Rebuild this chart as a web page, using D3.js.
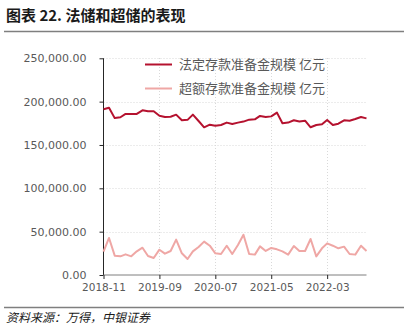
<!DOCTYPE html>
<html>
<head>
<meta charset="utf-8">
<script src="https://cdn.jsdelivr.net/npm/d3@7"></script>
<style>
  html, body { margin: 0; padding: 0; background: #fff; }
  svg { display: block; }
</style>
</head>
<body>
<svg id="chart" width="414" height="331"></svg>
<script>
// Monthly series, 2018-11 to 2022-10 (亿元)
const months = d3.timeMonths(new Date(2018, 10, 1), new Date(2022, 10, 1));
const statutoryReserves = [
  191200, 193000, 181000, 182000, 185800, 185800, 185800, 190000, 188800, 189000,
  183800, 182300, 182600, 185000, 178500, 179000, 185000, 177700, 170400, 173400,
  172300, 173000, 175800, 174200, 175800, 177000, 179200, 179600, 183500, 182300,
  183000, 187300, 175000, 175800, 178500, 177000, 178000, 170400, 173000, 173800,
  178800, 173000, 174600, 178500, 178000, 180000, 182300, 180700
];
const excessReserves = [
  26900, 42700, 22300, 21500, 23800, 21500, 27300, 31500, 21900, 19600,
  29200, 24600, 27700, 40800, 25000, 18500, 27300, 32300, 38500, 33800,
  25000, 24200, 33800, 24200, 34600, 46500, 24200, 23500, 33000, 27700,
  31200, 29600, 27300, 23500, 33500, 27700, 27700, 41500, 21500, 30800,
  36500, 33800, 30800, 32700, 24200, 23500, 33800, 27700
];
const yTicks = [0, 50000, 100000, 150000, 200000, 250000];
const xTickLabels = ["2018-11", "2019-09", "2020-07", "2021-05", "2022-03"];
const seriesNames = ["法定存款准备金规模 亿元", "超额存款准备金规模 亿元"];
const seriesColors = ["#b5122f", "#efa7a5"];

const svg = d3.select("#chart");
const parse = d3.timeParse("%Y-%m");

// Title and rules
svg.append("text")
  .attr("x", 6).attr("y", 21)
  .attr("font-family", "'Noto Sans CJK SC', sans-serif")
  .attr("font-weight", "bold").attr("font-size", 15)
  .attr("fill", "#1a1a1a")
  .text("图表 22. 法储和超储的表现");
svg.append("line").attr("x1", 4).attr("x2", 404).attr("y1", 31.5).attr("y2", 31.5)
  .attr("stroke", "#7f7f7f").attr("stroke-width", 1.5);
svg.append("line").attr("x1", 4).attr("x2", 404).attr("y1", 307.5).attr("y2", 307.5)
  .attr("stroke", "#7f7f7f").attr("stroke-width", 1.5);
svg.append("text")
  .attr("x", 6).attr("y", 322)
  .attr("font-family", "'Noto Sans CJK SC', sans-serif")
  .attr("font-style", "italic").attr("font-size", 12)
  .attr("fill", "#1a1a1a")
  .text("资料来源：万得，中银证券");

// Scales
const x = d3.scaleTime().domain([months[0], months[months.length - 1]]).range([103.5, 366.5]);
const y = d3.scaleLinear().domain([0, 250000]).range([275, 58.3]);

const tickDates = xTickLabels.map(parse);

// Grid
const grid = svg.append("g");
grid.selectAll(".hg").data(yTicks.slice(1)).join("line")
  .attr("x1", 103.5).attr("x2", 366.5)
  .attr("y1", d => Math.round(y(d)) + 0.5).attr("y2", d => Math.round(y(d)) + 0.5)
  .attr("stroke", "#d9d9d9").attr("stroke-dasharray", "1,2");
grid.selectAll(".vg").data(tickDates.slice(1)).join("line")
  .attr("x1", d => Math.round(x(d)) + 0.5).attr("x2", d => Math.round(x(d)) + 0.5)
  .attr("y1", 58).attr("y2", 275)
  .attr("stroke", "#d9d9d9").attr("stroke-dasharray", "1,2");

// Axes
const yAxis = svg.append("g").attr("transform", "translate(103.5,0)")
  .call(d3.axisLeft(y).tickValues(yTicks).tickSize(4).tickPadding(13)
    .tickFormat(d3.format(",.2f")));
yAxis.select(".domain").attr("stroke", "#262626").attr("d", `M0,${y(250000)}V${y(0)}`);
yAxis.selectAll(".tick line").attr("stroke", "#262626");
yAxis.selectAll(".tick text").attr("fill", "#595959")
  .attr("font-family", "'DejaVu Sans', sans-serif").attr("font-size", 11);

const xAxis = svg.append("g").attr("transform", "translate(0,275)")
  .call(d3.axisBottom(x).tickValues(tickDates).tickSize(4).tickPadding(5)
    .tickFormat(d3.timeFormat("%Y-%m")));
xAxis.select(".domain").attr("stroke", "#7f7f7f").attr("d", "M103.5,0H366.5");
xAxis.selectAll(".tick line").attr("stroke", "#262626");
xAxis.selectAll(".tick text").attr("fill", "#595959")
  .attr("font-family", "'DejaVu Sans', sans-serif").attr("font-size", 10.5);

// Lines
const line = d3.line().x((d, i) => x(months[i])).y(d => y(d));
[excessReserves, statutoryReserves].forEach((s, k) => {
  svg.append("path").datum(s)
    .attr("fill", "none")
    .attr("stroke", seriesColors[1 - k])
    .attr("stroke-width", 2)
    .attr("stroke-linejoin", "round")
    .attr("d", line);
});

// Legend
const legend = svg.append("g");
seriesNames.forEach((name, i) => {
  const ly = 64.5 + i * 24;
  legend.append("line").attr("x1", 145).attr("x2", 172).attr("y1", ly).attr("y2", ly)
    .attr("stroke", seriesColors[i]).attr("stroke-width", 2);
  legend.append("text").attr("x", 179).attr("y", ly + 4.5)
    .attr("font-family", "'Noto Sans CJK SC', sans-serif").attr("font-size", 13)
    .attr("fill", "#595959").text(name);
});
</script>
</body>
</html>
